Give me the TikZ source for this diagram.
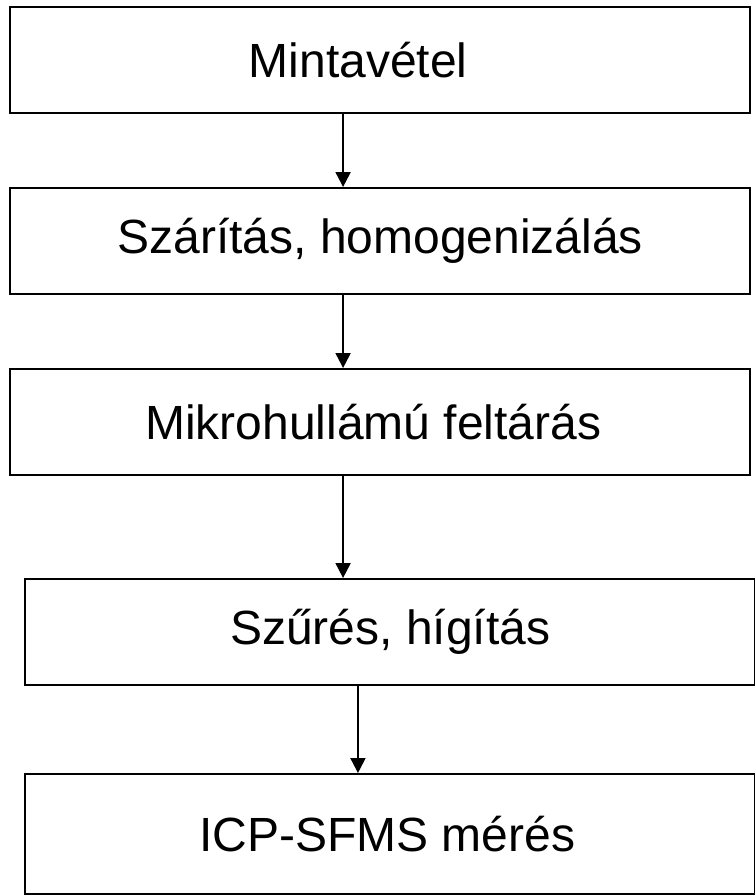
\documentclass[tikz,border=0pt]{standalone}
\usepackage{fontspec}
\setmainfont{Liberation Sans}
\usetikzlibrary{arrows.meta,calc}
\tikzset{
    >={Triangle[length=7.5pt,width=7.5pt]},
    stepbox/.style={rectangle,draw=black,line width=1.2pt,minimum width=370pt,minimum height=53pt,inner sep=0pt,anchor=north west},
    steptext/.style={inner sep=0pt,font=\fontsize{24}{28}\selectfont},
    flow/.style={->,line width=1pt}
}
\begin{document}
\begin{tikzpicture}[x=0.5pt,y=-0.5pt]
  \clip (0,0) rectangle (755,895);
  \node[stepbox] (mint) at (9,6)    {};
  \node[stepbox] (szar) at (9,187)  {};
  \node[stepbox] (mikro) at (9,368) {};
  \node[stepbox,minimum width=365pt] (szur) at (24,578) {};
  \node[stepbox,minimum width=365pt,minimum height=60pt] (icp) at (24,773) {};

  % labels, set a bit off centre as in the original
  \node[steptext,xshift=-11pt] (mint-t) at (mint)   {Mintavétel};
  \node[steptext] (szar-t) at (szar)                {Szárítás, homogenizálás};
  \node[steptext,xshift=-3.5pt] (mikro-t) at (mikro) {Mikrohullámú feltárás};
  \node[steptext] (szur-t) at (szur)                {Szűrés, hígítás};
  \node[steptext,xshift=-1.5pt] (icp-t) at (icp)     {ICP-SFMS mérés};

  \coordinate (a1) at ($(mint.south west)!0.45!(mint.south east)$);
  \coordinate (a2) at ($(szar.south west)!0.45!(szar.south east)$);
  \coordinate (a3) at ($(mikro.south west)!0.45!(mikro.south east)$);
  \coordinate (a4) at ($(szur.south west)!0.456!(szur.south east)$);

  \draw[flow] (a1) -- (a1 |- szar.north);
  \draw[flow] (a2) -- (a2 |- mikro.north);
  \draw[flow] (a3) -- (a3 |- szur.north);
  \draw[flow] (a4) -- (a4 |- icp.north);
\end{tikzpicture}
\end{document}
